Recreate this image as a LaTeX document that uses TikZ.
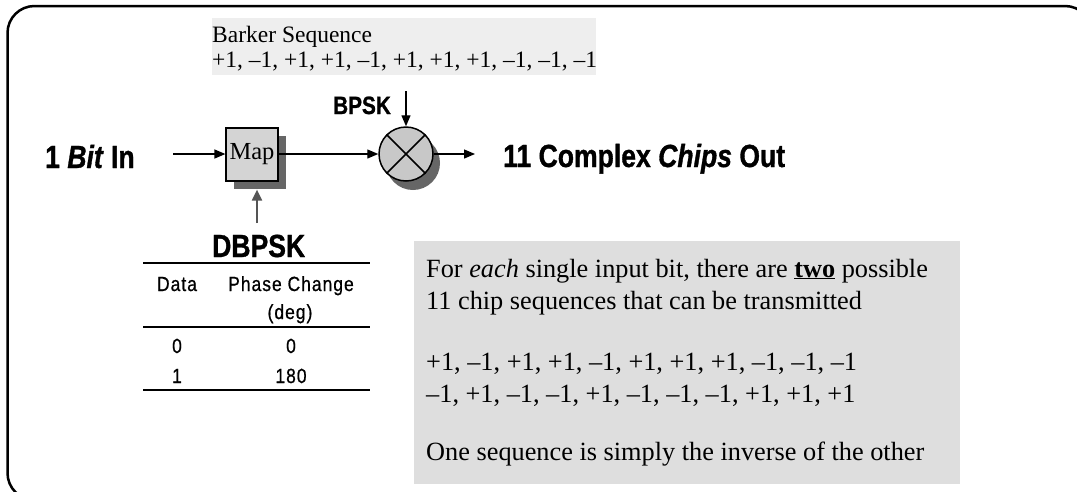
\documentclass[tikz,border=0pt]{standalone}
\usepackage{fontspec}
\setmainfont{Liberation Serif}
\newfontfamily\condfont[FakeStretch=0.83,FakeBold=1]{Liberation Sans}
\newfontfamily\tabfont[FakeStretch=0.85,LetterSpace=5,FakeBold=0.7]{Liberation Sans}
\usetikzlibrary{arrows.meta,shadows}
\definecolor{mapfill}{HTML}{D4D4D4}
\definecolor{mixfill}{HTML}{C8C8C8}
\definecolor{shadowc}{HTML}{666666}
\definecolor{boxc}{HTML}{DEDEDE}
\definecolor{barkc}{HTML}{EEEEEE}
\definecolor{upc}{HTML}{555555}
\begin{document}
\begin{tikzpicture}[x=1pt,y=-1pt,
  bigsans/.style={inner sep=0pt,font=\condfont\bfseries\fontsize{32}{32}\selectfont},
  tabtxt/.style={inner sep=0pt,anchor=base,font=\tabfont\fontsize{20.5}{21}\selectfont},
  sertxt/.style={inner sep=0pt,anchor=base west,font=\fontsize{26.3}{32}\selectfont},
  barktxt/.style={inner sep=0pt,anchor=base west,font=\fontsize{23.5}{25}\selectfont},
  arr/.style={line width=1.3pt,-{Triangle[length=11pt,width=9pt]}},
  arrg/.style={line width=2pt,draw=upc,-{Triangle[length=11pt,width=10pt]}},
  mapbox/.style={draw,line width=1.2pt,fill=mapfill,minimum width=52pt,minimum height=53pt,inner sep=0pt,
    font=\fontsize{24.5}{25}\selectfont,
    drop shadow={shadow xshift=8pt,shadow yshift=-8pt,fill=shadowc,opacity=1}},
  mixer/.style={circle,draw,line width=1.5pt,fill=mixfill,minimum size=54pt,inner sep=0pt,
    drop shadow={shadow xshift=7pt,shadow yshift=-9pt,fill=shadowc,opacity=1}},
  rulethick/.style={line width=2pt},
  rulethin/.style={line width=1.2pt}
]
\useasboundingbox (0,0) rectangle (1077,491);
% outer frame
\draw[line width=2.5pt,rounded corners=27pt] (7.5,6) rectangle (1092,500);
% Barker box
\fill[barkc] (212,18) rectangle (596,75);
\node[barktxt] (bark1) at (212,42) {Barker Sequence};
\node[barktxt] (bark2) at (212,67) {+1, –1, +1, +1, –1, +1, +1, +1, –1, –1, –1};
% labels
\node[bigsans,anchor=base west] (bin) at (45,168) {1 \textit{Bit} In};
\node[bigsans,anchor=base west] (out) at (503,167) {11 Complex \textit{Chips} Out};
\node[inner sep=0pt,anchor=base west,font=\condfont\bfseries\fontsize{25}{25}\selectfont] (bpsk) at (333,114) {BPSK};
% blocks
\node[mapbox] (map) at (252,154.5) {Map};
\node[mixer] (mix) at (406,154) {};
\draw[line width=1.5pt] (mix.north west) -- (mix.south east);
\draw[line width=1.5pt] (mix.north east) -- (mix.south west);
% connectors
\coordinate (inpt) at (173,154);
\draw[arr] (inpt) -- (map.west |- inpt);
\draw[arr] (map.east |- inpt) -- (mix.west);
\draw[arr] (mix.east) -- ([xshift=-28pt]out.west |- mix.east);
\coordinate (bpt) at (406,91);
\draw[arr] (bpt) -- (mix.north);
\coordinate (dpt) at (257,223);
\draw[arrg] (dpt) -- ([yshift=-8pt]dpt |- map.south);
% DBPSK table
\node[bigsans,anchor=base west] (dbpsk) at (212,257) {DBPSK};
\draw[rulethick] (143,263) -- (370,263);
\node[tabtxt] (hdata) at (177,291) {Data};
\node[tabtxt] (hphase) at (291,291) {Phase Change};
\node[tabtxt] (hdeg) at (290,319) {(deg)};
\draw[rulethin] (143,327) -- (370,327);
\node[tabtxt] (d0) at (177,353) {0};
\node[tabtxt] (p0) at (291,353) {0};
\node[tabtxt] (d1) at (177,383) {1};
\node[tabtxt] (p1) at (291,383) {180};
\draw[rulethick] (143,390) -- (370,390);
% explanation box
\fill[boxc] (414,241) rectangle (960,484);
\node[sertxt] (l1) at (426,277) {For \textit{each} single input bit, there are \underline{\textbf{two}} possible};
\node[sertxt] (l2) at (426,309) {11 chip sequences that can be transmitted};
\node[sertxt] (l3) at (426,370) {+1, –1, +1, +1, –1, +1, +1, +1, –1, –1, –1};
\node[sertxt] (l4) at (426,402) {–1, +1, –1, –1, +1, –1, –1, –1, +1, +1, +1};
\node[sertxt] (l5) at (426,460) {One sequence is simply the inverse of the other};
\end{tikzpicture}
\end{document}
